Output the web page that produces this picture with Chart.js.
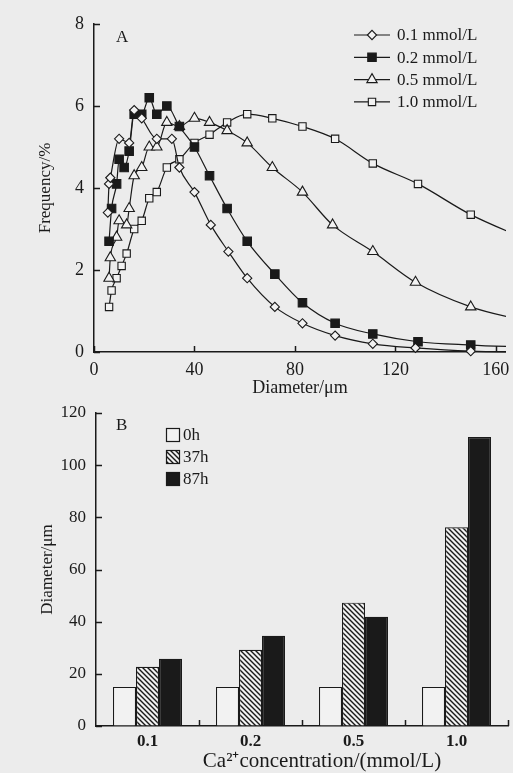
<!DOCTYPE html>
<html>
<head>
<meta charset="utf-8">
<script src="https://cdn.jsdelivr.net/npm/chart.js@4.4.0/dist/chart.umd.min.js"></script>
<style>
  html, body { margin: 0; padding: 0; background: #ececec; }
  body { width: 513px; height: 773px; position: relative; overflow: hidden; }
  #wrapA { position: absolute; left: 0; top: 0; width: 513px; height: 400px; }
  #wrapB { position: absolute; left: 0; top: 400px; width: 513px; height: 373px; }
</style>
</head>
<body>
<div id="wrapA"><canvas id="chartA"></canvas></div>
<div id="wrapB"><canvas id="chartB"></canvas></div>
<script>
// ---- panel A: size distribution ----
const sizeTicks = [0, 40, 80, 120, 160];
const freqTicks = [0, 2, 4, 6, 8];
const sizeMax = 164;

const size01 = [5.5, 6, 6.5, 10, 14, 16, 19, 25, 31, 34, 40, 46.5, 53.5, 61, 72, 83, 96, 111, 128, 150, 172];
const freq01 = [3.4, 4.1, 4.25, 5.2, 5.1, 5.9, 5.7, 5.2, 5.2, 4.5, 3.9, 3.1, 2.45, 1.8, 1.1, 0.7, 0.4, 0.2, 0.1, 0.02, 0];

const size02 = [6, 7, 9, 10, 12, 14, 16, 19, 22, 25, 29, 34, 40, 46, 53, 61, 72, 83, 96, 111, 129, 150, 172];
const freq02 = [2.7, 3.5, 4.1, 4.7, 4.5, 4.9, 5.8, 5.8, 6.2, 5.8, 6.0, 5.5, 5.0, 4.3, 3.5, 2.7, 1.9, 1.2, 0.7, 0.44, 0.25, 0.17, 0.12];

const size05 = [6, 6.5, 9, 10, 13, 14, 16, 19, 22, 25, 29, 34, 40, 46, 53, 61, 71, 83, 95, 111, 128, 150, 172];
const freq05 = [1.8, 2.3, 2.8, 3.2, 3.1, 3.5, 4.3, 4.5, 5.0, 5.0, 5.6, 5.5, 5.7, 5.6, 5.4, 5.1, 4.5, 3.9, 3.1, 2.45, 1.7, 1.1, 0.75];

const size10 = [6, 7, 9, 11, 13, 16, 19, 22, 25, 29, 34, 40, 46, 53, 61, 71, 83, 96, 111, 129, 150, 172];
const freq10 = [1.1, 1.5, 1.8, 2.1, 2.4, 3.0, 3.2, 3.75, 3.9, 4.5, 4.7, 5.1, 5.3, 5.6, 5.8, 5.7, 5.5, 5.2, 4.6, 4.1, 3.35, 2.75];

// ---- panel B: mean diameter by Ca2+ concentration ----
const concLabels = ['0.1', '0.2', '0.5', '1.0'];
const diam0h = [15, 15, 15, 15];
const diam37h = [22.7, 29.2, 47.3, 76.2];
const diam87h = [25.8, 34.6, 41.9, 110.8];
const diamTicks = [0, 20, 40, 60, 80, 100, 120];

const ink = '#1a1a1a';
const paper = '#f2f2f2';
const serif = "'Liberation Serif', 'Times New Roman', serif";

Chart.defaults.font.family = serif;
Chart.defaults.color = ink;
Chart.defaults.animation = false;

function toPoints(xs, ys) {
    return xs.map((x, i) => ({ x: x, y: ys[i] }));
}

// diagonal hatch for the 37 h bars
function makeHatch() {
    const c = document.createElement('canvas');
    c.width = 5; c.height = 5;
    const g = c.getContext('2d');
    g.fillStyle = paper;
    g.fillRect(0, 0, 5, 5);
    g.strokeStyle = ink;
    g.lineWidth = 1.4;
    g.beginPath();
    g.moveTo(-1, -1); g.lineTo(6, 6);
    g.moveTo(-1, 4); g.lineTo(1, 6);
    g.moveTo(4, -1); g.lineTo(6, 1);
    g.stroke();
    return g.createPattern(c, 'repeat');
}

// ticks drawn inward from the axes
const inwardTicks = {
    id: 'inwardTicks',
    afterDraw(chart, args, o) {
        const ctx = chart.ctx, area = chart.chartArea;
        const xs = chart.scales.x, ys = chart.scales.y;
        ctx.save();
        ctx.strokeStyle = ink;
        ctx.lineWidth = 1.5;
        ctx.beginPath();
        (o.xAt || []).forEach(v => {
            const px = Math.round(xs.getPixelForValue(v)) + 0.5;
            ctx.moveTo(px, area.bottom);
            ctx.lineTo(px, area.bottom - o.len);
        });
        (o.yAt || []).forEach(v => {
            const py = Math.round(ys.getPixelForValue(v)) + 0.5;
            ctx.moveTo(area.left, py);
            ctx.lineTo(area.left + o.len, py);
        });
        ctx.stroke();
        ctx.restore();
    }
};

// free text (panel letters, odd titles)
const freeText = {
    id: 'freeText',
    afterDraw(chart, args, o) {
        const ctx = chart.ctx;
        ctx.save();
        ctx.fillStyle = ink;
        ctx.textBaseline = 'middle';
        (o.items || []).forEach(t => {
            ctx.font = t.font;
            ctx.textAlign = t.align || 'left';
            ctx.fillText(t.text, t.x, t.y);
        });
        ctx.restore();
    }
};

// legend for panel A: line - marker - line
const lineLegend = {
    id: 'lineLegend',
    afterDraw(chart, args, o) {
        if (!o.show) return;
        const ctx = chart.ctx;
        ctx.save();
        chart.data.datasets.forEach((ds, i) => {
            const cy = o.y + i * o.gap;
            ctx.strokeStyle = ds.borderColor;
            ctx.lineWidth = 1.2;
            ctx.beginPath();
            ctx.moveTo(o.x, cy);
            ctx.lineTo(o.x + o.len, cy);
            ctx.stroke();
            ctx.fillStyle = ds.pointBackgroundColor;
            ctx.strokeStyle = ds.pointBorderColor;
            ctx.lineWidth = ds.pointBorderWidth;
            Chart.helpers.drawPoint(ctx, {
                pointStyle: ds.pointStyle, radius: ds.legendRadius,
                borderWidth: ds.pointBorderWidth, rotation: 0
            }, o.x + o.len / 2, cy);
            ctx.fillStyle = ink;
            ctx.font = o.font;
            ctx.textAlign = 'left';
            ctx.textBaseline = 'middle';
            ctx.fillText(ds.label, o.x + o.len + 7, cy + 1);
        });
        ctx.restore();
    }
};

// legend for panel B: boxes
const boxLegend = {
    id: 'boxLegend',
    afterDraw(chart, args, o) {
        if (!o.show) return;
        const ctx = chart.ctx;
        ctx.save();
        chart.data.datasets.forEach((ds, i) => {
            const top = o.y + i * o.gap;
            ctx.fillStyle = ds.backgroundColor;
            ctx.fillRect(o.x, top, o.size, o.size);
            ctx.strokeStyle = ink;
            ctx.lineWidth = 1.2;
            ctx.strokeRect(o.x + 0.5, top + 0.5, o.size - 1, o.size - 1);
            ctx.fillStyle = ink;
            ctx.font = o.font;
            ctx.textAlign = 'left';
            ctx.textBaseline = 'middle';
            ctx.fillText(ds.label, o.x + o.size + 3, top + o.size / 2 + 1);
        });
        ctx.restore();
    }
};

function lineSet(label, xs, ys, style, radius, fill) {
    return {
        label: label,
        data: toPoints(xs, ys),
        borderColor: ink,
        borderWidth: 1.2,
        cubicInterpolationMode: 'monotone',
        pointStyle: style,
        pointRadius: c => (c.raw && c.raw.x > sizeMax ? 0 : radius),
        legendRadius: radius,
        pointBackgroundColor: fill,
        pointBorderColor: ink,
        pointBorderWidth: 1.1,
        clip: { left: 10, top: 10, right: 0, bottom: 10 }
    };
}

function fixedWidth(w) {
    return s => { s.width = w; s.paddingTop = 0; s.paddingBottom = 0; };
}
function fixedHeight(h) {
    return s => { s.height = h; s.paddingLeft = 0; s.paddingRight = 0; };
}

// Panel A
new Chart(document.getElementById('chartA'), {
    type: 'line',
    data: {
        datasets: [
            lineSet('0.1 mmol/L', size01, freq01, 'rectRot', 4.6, paper),
            lineSet('0.2 mmol/L', size02, freq02, 'rect', 6, ink),
            lineSet('0.5 mmol/L', size05, freq05, 'triangle', 6, paper),
            lineSet('1.0 mmol/L', size10, freq10, 'rect', 5.2, paper)
        ]
    },
    options: {
        responsive: true,
        maintainAspectRatio: false,
        layout: { padding: { left: 0, right: 3, top: 24, bottom: 0 } },
        scales: {
            x: {
                type: 'linear', min: 0, max: sizeMax,
                afterBuildTicks: s => { s.ticks = sizeTicks.map(v => ({ value: v })); },
                afterFit: fixedHeight(48),
                ticks: { font: { size: 18 }, padding: 7, maxRotation: 0 },
                grid: { drawOnChartArea: false, drawTicks: false },
                border: { color: ink, width: 1.5 },
                title: { display: true, text: 'Diameter/μm', font: { size: 18 }, padding: { top: 0, bottom: 1 } }
            },
            y: {
                min: 0, max: 8,
                afterBuildTicks: s => { s.ticks = freqTicks.map(v => ({ value: v })); },
                afterFit: fixedWidth(94),
                ticks: { font: { size: 18 }, padding: 10 },
                grid: { drawOnChartArea: false, drawTicks: false },
                border: { color: ink, width: 1.5 },
                title: { display: true, text: 'Frequency/%', font: { size: 17 }, padding: { top: 35, bottom: 0 } }
            }
        },
        plugins: {
            legend: { display: false },
            tooltip: { enabled: false },
            inwardTicks: { xAt: sizeTicks, yAt: freqTicks, len: 6 },
            lineLegend: { show: true, x: 354, y: 35, gap: 22.3, len: 36, font: '17px ' + serif },
            freeText: { items: [{ text: 'A', x: 116, y: 38, font: '17px ' + serif }] }
        }
    },
    plugins: [inwardTicks, lineLegend, freeText]
});

// Panel B
new Chart(document.getElementById('chartB'), {
    type: 'bar',
    data: {
        labels: concLabels,
        datasets: [
            { label: '0h', data: diam0h, backgroundColor: paper },
            { label: '37h', data: diam37h, backgroundColor: makeHatch() },
            { label: '87h', data: diam87h, backgroundColor: ink }
        ]
    },
    options: {
        responsive: true,
        maintainAspectRatio: false,
        layout: { padding: { left: 0, right: 5, top: 13, bottom: 0 } },
        datasets: {
            bar: {
                borderColor: ink, borderWidth: 1.2,
                categoryPercentage: 0.67, barPercentage: 1.0
            }
        },
        scales: {
            x: {
                afterFit: fixedHeight(47),
                ticks: { font: { size: 17, weight: 'bold' }, padding: 5 },
                grid: { drawOnChartArea: false, drawTicks: false },
                border: { color: ink, width: 1.5 }
            },
            y: {
                min: 0, max: 120,
                afterBuildTicks: s => { s.ticks = diamTicks.map(v => ({ value: v })); },
                afterFit: fixedWidth(96),
                ticks: { font: { size: 17 }, padding: 10 },
                grid: { drawOnChartArea: false, drawTicks: false },
                border: { color: ink, width: 1.5 },
                title: { display: true, text: 'Diameter/μm', font: { size: 17 }, padding: { top: 37, bottom: 0 } }
            }
        },
        plugins: {
            legend: { display: false },
            tooltip: { enabled: false },
            inwardTicks: { xAt: [0.5, 1.5, 2.5, 3.5], yAt: diamTicks, len: 6 },
            boxLegend: { show: true, x: 166, y: 28, gap: 22, size: 14, font: '17px ' + serif },
            freeText: {
                items: [
                    { text: 'B', x: 116, y: 26, font: '17px ' + serif },
                    { text: 'Ca²⁺concentration/(mmol/L)', x: 322, y: 361, align: 'center', font: '21px ' + serif }
                ]
            }
        }
    },
    plugins: [inwardTicks, boxLegend, freeText]
});
</script>
</body>
</html>
